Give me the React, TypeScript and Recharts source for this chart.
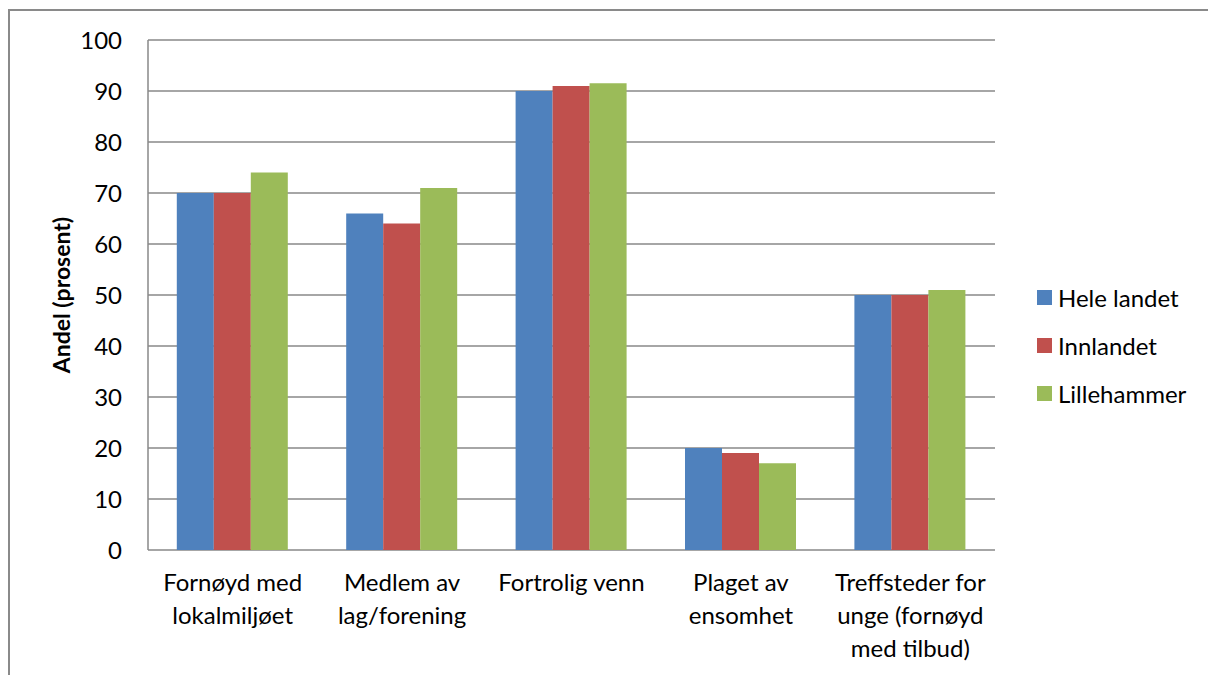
import { BarChart, Bar, XAxis, YAxis, CartesianGrid, Legend } from 'recharts';

const categories = [
  'Fornøyd med lokalmiljøet',
  'Medlem av lag/forening',
  'Fortrolig venn',
  'Plaget av ensomhet',
  'Treffsteder for unge (fornøyd med tilbud)',
];

// how each category label wraps under the axis
const categoryLines: string[][] = [
  ['Fornøyd med', 'lokalmiljøet'],
  ['Medlem av', 'lag/forening'],
  ['Fortrolig venn'],
  ['Plaget av', 'ensomhet'],
  ['Treffsteder for', 'unge (fornøyd', 'med tilbud)'],
];

const heleLandet = [70, 66, 90, 20, 50];
const innlandet = [70, 64, 91, 19, 50];
const lillehammer = [74, 71, 91.5, 17, 51];

const yTicks = [0, 10, 20, 30, 40, 50, 60, 70, 80, 90, 100];
const edgeTicks = [0, 1, 2, 3, 4, 5];

const series = [
  { key: 'Hele landet', values: heleLandet, color: '#4F81BD' },
  { key: 'Innlandet', values: innlandet, color: '#C0504D' },
  { key: 'Lillehammer', values: lillehammer, color: '#9BBB59' },
];

const data = categories.map((name, i) => {
  const row: Record<string, string | number> = { name, idx: i };
  for (const s of series) row[s.key] = s.values[i];
  return row;
});

const font = 'Lato, "Open Sans", sans-serif';
const gridColor = '#888888';

function CategoryTick(props: any) {
  const { x, y, payload } = props;
  const lines = categoryLines[payload.index] ?? [payload.value];
  return (
    <text x={x} y={y} textAnchor="middle" fill="#000" fontSize={24} fontFamily={font}>
      {lines.map((l, i) => (
        <tspan key={i} x={x} dy={i === 0 ? 33 : 33}>
          {l}
        </tspan>
      ))}
    </text>
  );
}

function LegendBox() {
  return (
    <div style={{ fontFamily: font, fontSize: 24, color: '#000' }}>
      {series.map((s) => (
        <div
          key={s.key}
          style={{ display: 'flex', alignItems: 'center', height: 48 }}
        >
          <span
            style={{
              width: 15,
              height: 15,
              backgroundColor: s.color,
              marginRight: 6,
              display: 'inline-block',
            }}
          />
          <span>{s.key}</span>
        </div>
      ))}
    </div>
  );
}

export default function App() {
  return (
    <div
      style={{
        position: 'fixed',
        left: 0,
        top: 0,
        width: 1208,
        height: 675,
        overflow: 'hidden',
        background: '#fff',
      }}
    >
      {/* outer chart frame, cut off at the right and bottom */}
      <div
        style={{
          position: 'absolute',
          left: 8,
          top: 9,
          right: 0,
          bottom: 0,
          borderTop: '2px solid #8a8a8a',
          borderLeft: '2px solid #8a8a8a',
        }}
      />
      <div style={{ position: 'absolute', left: 0, top: 0 }}>
        <BarChart
          width={1208}
          height={675}
          data={data}
          margin={{ top: 40, right: 43, bottom: 0, left: 0 }}
          barCategoryGap="17%"
          barGap={0}
        >
          <CartesianGrid vertical={false} stroke={gridColor} strokeWidth={1.5} />
          <XAxis
            xAxisId="edges"
            type="number"
            dataKey="idx"
            domain={[0, 5]}
            ticks={edgeTicks}
            tick={false}
            tickSize={7}
            height={0}
            stroke={gridColor}
            strokeWidth={1.5}
            allowDataOverflow
          />
          <XAxis
            dataKey="name"
            interval={0}
            axisLine={false}
            tickLine={false}
            tick={<CategoryTick />}
            height={125}
          />
          <YAxis
            domain={[0, 100]}
            ticks={yTicks}
            width={148}
            tickSize={0}
            tickMargin={26}
            stroke={gridColor}
            strokeWidth={1.5}
            tick={{ fill: '#000', fontSize: 24, fontFamily: font }}
            label={{
              value: 'Andel (prosent)',
              angle: -90,
              position: 'center',
              dx: -12,
              style: {
                fontFamily: font,
                fontSize: 23,
                fontWeight: 700,
                fill: '#000',
                textAnchor: 'middle',
              },
            }}
          />
          <Legend
            layout="vertical"
            align="right"
            verticalAlign="top"
            content={<LegendBox />}
            wrapperStyle={{ left: 1037, top: 273, width: 170 }}
          />
          {series.map((s) => (
            <Bar
              key={s.key}
              dataKey={s.key}
              fill={s.color}
              isAnimationActive={false}
            />
          ))}
        </BarChart>
      </div>
    </div>
  );
}
